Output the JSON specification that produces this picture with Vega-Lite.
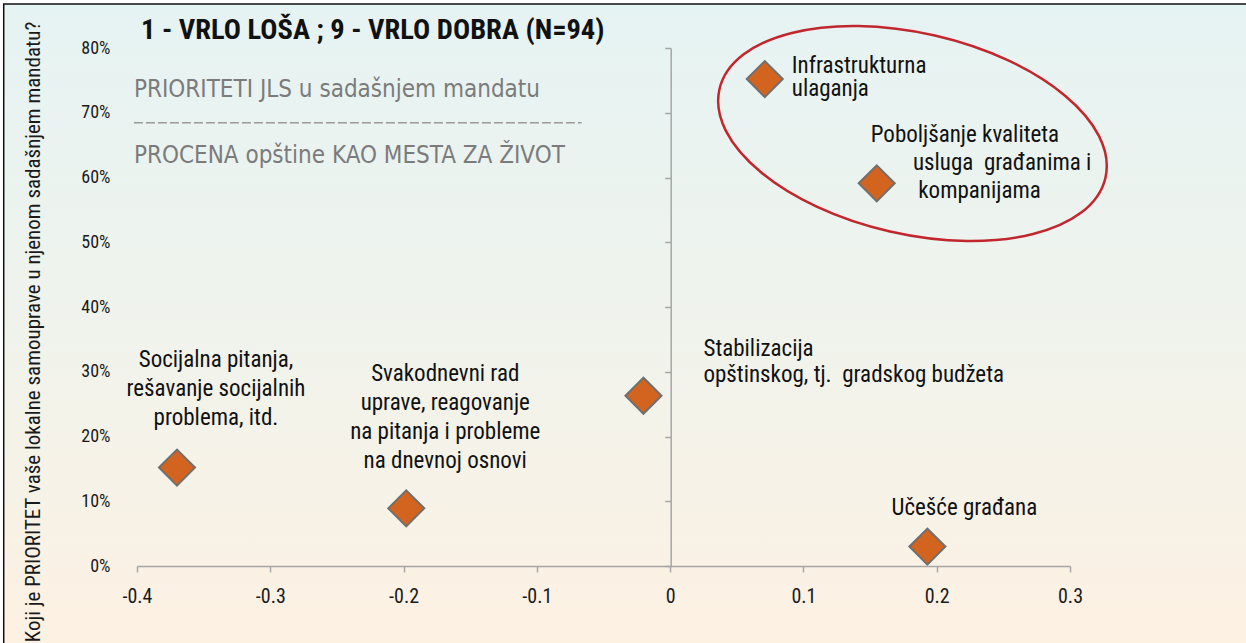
{
  "$schema": "https://vega.github.io/schema/vega-lite/v6.json",
  "width": 933,
  "height": 518,
  "autosize": {"type": "none"},
  "padding": {"left": 137, "top": 48, "right": 176, "bottom": 77},
  "background": "#ffffff",
  "config": {
    "view": {"stroke": null},
    "font": "Roboto Condensed, DejaVu Sans Condensed, sans-serif"
  },
  "datasets": {
    "pts": [
      {"label": "Socijalna pitanja,|rešavanje socijalnih|problema, itd.", "x": -0.37, "y": 0.152},
      {"label": "Svakodnevni rad|uprave, reagovanje|na pitanja i probleme|na dnevnoj osnovi", "x": -0.198, "y": 0.089},
      {"label": "Stabilizacija|opštinskog, tj.\u00a0 gradskog budžeta", "x": -0.02, "y": 0.263},
      {"label": "Infrastrukturna|ulaganja", "x": 0.071, "y": 0.752},
      {"label": "Poboljšanje kvaliteta|\u200b\u00a0\u00a0\u00a0\u00a0\u00a0\u00a0\u00a0\u00a0usluga\u00a0 građanima i|\u200b\u00a0\u00a0\u00a0\u00a0\u00a0\u00a0\u00a0\u00a0\u00a0kompanijama", "x": 0.155, "y": 0.591},
      {"label": "Učešće građana", "x": 0.193, "y": 0.03}
    ]
  },
  "layer": [
    {
      "data": {"values": [{}]},
      "mark": {
        "type": "rect",
        "fill": {"gradient": "linear", "x1": 0, "y1": 0, "x2": 0, "y2": 1,
          "stops": [{"offset": 0, "color": "#E6F3F3"}, {"offset": 0.5, "color": "#F0F3EC"}, {"offset": 1, "color": "#FEF1E2"}]},
        "stroke": "#111111",
        "strokeWidth": 1.5
      },
      "encoding": {
        "x": {"datum": -0.5, "type": "quantitative"},
        "x2": {"datum": 0.46},
        "y": {"datum": 0.868, "type": "quantitative"},
        "y2": {"datum": -0.15}
      }
    },
    {
      "data": {"values": [{}]},
      "mark": {
        "type": "point",
        "shape": "M-1,0A1,0.5076,0,1,0,1,0A1,0.5076,0,1,0,-1,0Z",
        "size": 156816,
        "angle": 12.9,
        "filled": false,
        "stroke": "#C1272D",
        "strokeWidth": 2.5,
        "opacity": 1
      },
      "encoding": {
        "x": {"datum": 0.1818, "type": "quantitative"},
        "y": {"datum": 0.668, "type": "quantitative"}
      }
    },
    {
      "data": {"values": [{}]},
      "mark": {"type": "rule", "strokeDash": [9, 3], "color": "#9a9a9a", "strokeWidth": 1.5},
      "encoding": {
        "x": {"datum": -0.4023, "type": "quantitative"},
        "x2": {"datum": -0.0664},
        "y": {"datum": 0.6846, "type": "quantitative"}
      }
    },
    {
      "data": {"values": [{}]},
      "mark": {"type": "text", "font": "DejaVu Sans Condensed, sans-serif", "text": "PRIORITETI JLS u sadašnjem  mandatu", "align": "left", "baseline": "alphabetic", "fontSize": 24, "color": "#7b7b7b"},
      "encoding": {
        "x": {"datum": -0.4023, "type": "quantitative"},
        "y": {"datum": 0.7239, "type": "quantitative"}
      }
    },
    {
      "data": {"values": [{}]},
      "mark": {"type": "text", "font": "DejaVu Sans Condensed, sans-serif", "text": "PROCENA opštine KAO MESTA ZA ŽIVOT", "align": "left", "baseline": "alphabetic", "fontSize": 24, "color": "#7b7b7b"},
      "encoding": {
        "x": {"datum": -0.4023, "type": "quantitative"},
        "y": {"datum": 0.6219, "type": "quantitative"}
      }
    },
    {
      "data": {"values": [{}]},
      "mark": {"type": "text", "text": "1 - VRLO LOŠA ; 9 - VRLO DOBRA (N=94)", "align": "left", "baseline": "alphabetic", "fontSize": 28.5, "fontWeight": "bold", "color": "#111111"},
      "encoding": {
        "x": {"datum": -0.397, "type": "quantitative"},
        "y": {"datum": 0.8134, "type": "quantitative"}
      }
    },
    {
      "data": {"name": "pts"},
      "mark": {"type": "point", "shape": "diamond", "filled": true, "fill": "#D3641F", "stroke": "#6f6f6f", "strokeWidth": 2, "size": 1300, "opacity": 1},
      "encoding": {
        "x": {
          "field": "x", "type": "quantitative",
          "scale": {"domain": [-0.4, 0.3], "nice": false, "zero": false},
          "axis": {
            "title": null,
            "zindex": 1,
            "values": [-0.4, -0.3, -0.2, -0.1, 0, 0.1, 0.2, 0.3],
            "labelExpr": "replace(format(datum.value, '.1~f'), '−', '-')",
            "grid": false,
            "labelFlush": false,
            "domainColor": "#A6A6A6",
            "tickColor": "#A6A6A6",
            "domainWidth": 1.5,
            "tickWidth": 1.5,
            "tickSize": 6,
            "labelFontSize": 20,
            "labelColor": "#1a1a1a",
            "labelPadding": 14
          }
        },
        "y": {
          "field": "y", "type": "quantitative",
          "scale": {"domain": [0, 0.8], "nice": false, "zero": false},
          "axis": {
            "title": "Koji je PRIORITET vaše lokalne samouprave u  njenom sadašnjem mandatu?",
            "zindex": 1,
            "values": [0, 0.1, 0.2, 0.3, 0.4, 0.5, 0.6, 0.7, 0.8],
            "format": ".0%",
            "grid": false,
            "labelFlush": false,
            "offset": -533.7,
            "domainColor": "#A6A6A6",
            "tickColor": "#A6A6A6",
            "domainWidth": 1.5,
            "tickWidth": 1.5,
            "tickSize": 6,
            "labelPadding": 554.7,
            "labelFontSize": 18,
            "labelColor": "#1a1a1a",
            "titleFontSize": 21,
            "titleFontWeight": "normal",
            "titleColor": "#1a1a1a",
            "titleBaseline": "alphabetic",
            "titleAngle": -90,
            "titleX": -631.7,
            "titleY": 283.5
          }
        }
      }
    },
    {
      "data": {"name": "pts"},
      "transform": [{"filter": "indexof(datum.label, 'Socijalna') == 0"}],
      "mark": {"type": "text", "align": "center", "baseline": "alphabetic", "dx": 39, "dy": -101, "fontSize": 23, "lineHeight": 29, "lineBreak": "|", "color": "#111111"},
      "encoding": {"x": {"field": "x", "type": "quantitative"}, "y": {"field": "y", "type": "quantitative"}, "text": {"field": "label"}}
    },
    {
      "data": {"name": "pts"},
      "transform": [{"filter": "indexof(datum.label, 'Svakodnevni') == 0"}],
      "mark": {"type": "text", "align": "center", "baseline": "alphabetic", "dx": 39, "dy": -127, "fontSize": 23, "lineHeight": 29, "lineBreak": "|", "color": "#111111"},
      "encoding": {"x": {"field": "x", "type": "quantitative"}, "y": {"field": "y", "type": "quantitative"}, "text": {"field": "label"}}
    },
    {
      "data": {"name": "pts"},
      "transform": [{"filter": "indexof(datum.label, 'Stabilizacija') == 0"}],
      "mark": {"type": "text", "align": "left", "baseline": "alphabetic", "dx": 60, "dy": -40, "fontSize": 23, "lineHeight": 26, "lineBreak": "|", "color": "#111111"},
      "encoding": {"x": {"field": "x", "type": "quantitative"}, "y": {"field": "y", "type": "quantitative"}, "text": {"field": "label"}}
    },
    {
      "data": {"name": "pts"},
      "transform": [{"filter": "indexof(datum.label, 'Infrastrukturna') == 0"}],
      "mark": {"type": "text", "align": "left", "baseline": "alphabetic", "dx": 27, "dy": -6, "fontSize": 23, "lineHeight": 22.5, "lineBreak": "|", "color": "#111111"},
      "encoding": {"x": {"field": "x", "type": "quantitative"}, "y": {"field": "y", "type": "quantitative"}, "text": {"field": "label"}}
    },
    {
      "data": {"name": "pts"},
      "transform": [{"filter": "indexof(datum.label, 'Poboljšanje') == 0"}],
      "mark": {"type": "text", "align": "left", "baseline": "alphabetic", "dx": -6, "dy": -41.6, "fontSize": 23, "lineHeight": 28.3, "lineBreak": "|", "color": "#111111"},
      "encoding": {"x": {"field": "x", "type": "quantitative"}, "y": {"field": "y", "type": "quantitative"}, "text": {"field": "label"}}
    },
    {
      "data": {"name": "pts"},
      "transform": [{"filter": "indexof(datum.label, 'Učešće') == 0"}],
      "mark": {"type": "text", "align": "center", "baseline": "alphabetic", "dx": 37, "dy": -31.7, "fontSize": 23, "color": "#111111"},
      "encoding": {"x": {"field": "x", "type": "quantitative"}, "y": {"field": "y", "type": "quantitative"}, "text": {"field": "label"}}
    }
  ]
}
